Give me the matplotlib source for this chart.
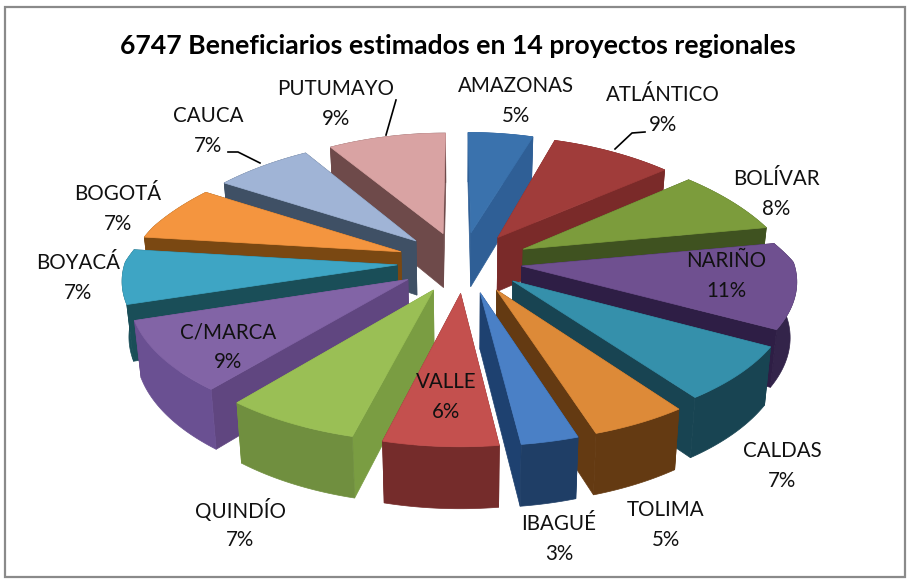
import numpy as np
import matplotlib
matplotlib.use("Agg")
import matplotlib.pyplot as plt
from matplotlib.patches import Polygon, Rectangle

title = "6747 Beneficiarios estimados en 14 proyectos regionales"
categories = ["AMAZONAS","ATLÁNTICO","BOLÍVAR","NARIÑO","CALDAS","TOLIMA","IBAGUÉ","VALLE",
              "QUINDÍO","C/MARCA","BOYACÁ","BOGOTÁ","CAUCA","PUTUMAYO"]
percent = [5,9,8,11,7,5,3,6,7,9,7,7,7,9]
top_colors = ["#3a72ad","#a03c3a","#7c9c3c","#6f5090","#3590ab","#dd8a38","#4a80c6","#c4504e",
              "#9abf55","#8264a6","#3ea5c4","#f4953f","#a0b4d6","#d9a3a3"]
arc_colors = ["#2f5f96","#742625","#4a5f24","#33244a","#184452","#643a12","#1f3e66","#752c2b",
              "#708f3f","#6a5092","#1a4e58","#7a4812","#3f5065","#6e4a4a"]
radial_colors = ["#2f5f96","#7a2a29","#3f5220","#2e1e45","#184452","#643a12","#1e4170","#752c2b",
                 "#7a9d42","#604680","#1a4e58","#7a4812","#3f5065","#6e4a4a"]
explode = [0.25,0.25,0.25,0.21,0.23,0.25,0.25,0.25,0.25,0.25,0.25,0.25,0.25,0.25]
label_xy = [(516,101),(663,110),(776,194),(726,276),(782,466),(666,525),(559,539),(446,397),
            (240,525),(228,347),(78,278),(118,209),(208,131),(336,104)]
leaders = [[(396,100),(386,135)], [(645,132),(632,133),(615,149)], [(228,152),(238,152),(260,163)]]

W, H = 909, 579
fig = plt.figure(figsize=(W/100, H/100), dpi=100)
ax = fig.add_axes([0,0,1,1])
ax.set_xlim(0,W); ax.set_ylim(H,0); ax.axis("off")
ax.add_patch(Rectangle((5,6.5),899.5,570.5,fc="white",ec="#8a8a8a",lw=1.6))

CX, CY = 460, 262
FX, FY = 272, 122
PERSP, PERSP_D, DEPTH = 0.14, 0.09, 55

def proj(X, Y, z):
    """Perspective projection of a pie point; Y>0 is the back of the pie, z is the depth."""
    px = 0.25 if Y > 0 else 0.105
    sx = 1/(1+px*Y)
    sy = 1/(1+PERSP*Y)
    sd = 1/(1+PERSP_D*Y)
    shift = 5*np.clip((0.3-Y)/0.3, 0, 1)
    return (CX + shift + FX*X*sx*(1-0.02*z), CY - FY*Y*sy + DEPTH*sd*z)

fracs = np.array(percent, dtype=float)/sum(percent)
starts = np.concatenate([[0], np.cumsum(fracs)[:-1]])*2*np.pi
mids = starts + fracs*np.pi

for i in sorted(range(len(percent)), key=lambda k: -np.cos(mids[k])):
    a0, a1, mid = starts[i], starts[i]+fracs[i]*2*np.pi, mids[i]
    ox, oy = explode[i]*np.sin(mid), explode[i]*np.cos(mid)
    th = np.linspace(a0, a1, 40)
    rx, ry = ox+np.sin(th), oy+np.cos(th)
    tops = [proj(x,y,0) for x,y in zip(rx,ry)]
    bots = [proj(x,y,1) for x,y in zip(rx,ry)]
    A0, B0 = proj(ox,oy,0), proj(ox,oy,1)
    faces = []
    for k in (0,-1):
        faces.append(((oy+ry[k])/2, [A0, tops[k], bots[k], B0], radial_colors[i]))
    faces.append((oy+np.cos(mid), tops+bots[::-1], arc_colors[i]))
    faces.sort(key=lambda f: -f[0])
    for _, pts, c in faces:
        ax.add_patch(Polygon(pts, closed=True, fc=c, ec=c, lw=0.5, zorder=2))
    ax.add_patch(Polygon([A0]+tops, closed=True, fc=top_colors[i], ec=top_colors[i], lw=0.5, zorder=2))

font = "Lato"
for name,p,(x,y) in zip(categories,percent,label_xy):
    ax.text(x,y-14.7,name,ha="center",va="center",fontsize=14.8,family=font,color="#111111",zorder=5)
    ax.text(x,y+14.7,f"{p}%",ha="center",va="center",fontsize=14.8,family=font,color="#111111",zorder=5)
for seg in leaders:
    xs,ys = zip(*seg)
    ax.plot(xs,ys,color="black",lw=1.2,zorder=4)
ax.text(458,46,title,ha="center",va="center",fontsize=19.15,fontweight="bold",family=font,color="black")
fig.savefig("out.png",dpi=100)
